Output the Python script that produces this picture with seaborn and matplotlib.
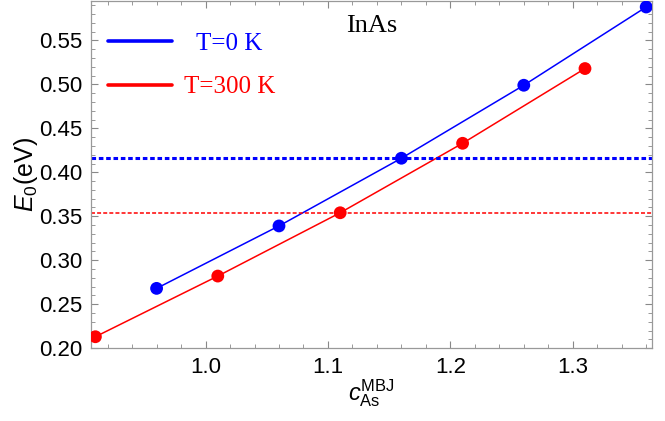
import pandas as pd
import seaborn as sns
import matplotlib.pyplot as plt
from matplotlib.ticker import MultipleLocator

# data
c_t0 = [0.96, 1.06, 1.16, 1.26, 1.36]
e_t0 = [0.268, 0.339, 0.416, 0.499, 0.588]
c_t300 = [0.91, 1.01, 1.11, 1.21, 1.31]
e_t300 = [0.213, 0.282, 0.354, 0.433, 0.518]
ref_t0 = 0.4167
ref_t300 = 0.3535
labels = ['  T=0 K', 'T=300 K']
colors = ['#0000ff', '#ff0000']

df = pd.DataFrame({
    'c': c_t0 + c_t300,
    'E': e_t0 + e_t300,
    'series': [labels[0]] * len(c_t0) + [labels[1]] * len(c_t300),
})

sns.set_style('white')
plt.rcParams['font.family'] = ['Liberation Sans', 'DejaVu Sans']
plt.rcParams['mathtext.fontset'] = 'custom'
plt.rcParams['mathtext.rm'] = 'Liberation Sans'
plt.rcParams['mathtext.it'] = 'Liberation Sans:italic'

fig = plt.figure(figsize=(6.65, 4.21), dpi=100)
ax = fig.add_axes([0.137, 0.173, 0.843, 0.825])

palette = dict(zip(labels, colors))
sns.lineplot(data=df, x='c', y='E', hue='series', palette=palette,
             linewidth=1.1, ax=ax, legend=False)
sns.scatterplot(data=df, x='c', y='E', hue='series', palette=palette,
                s=85, edgecolor='none', ax=ax, legend=False, zorder=5)

# reference levels
ax.axhline(ref_t0, color=colors[0], linewidth=2.2, dashes=(1.5, 0.9))
ax.axhline(ref_t300, color=colors[1], linewidth=1.1, dashes=(2.6, 1.4))

ax.set_xlim(0.9065, 1.3645)
ax.set_ylim(0.2, 0.595)
ax.xaxis.set_major_locator(MultipleLocator(0.1))
ax.xaxis.set_minor_locator(MultipleLocator(0.02))
ax.yaxis.set_major_locator(MultipleLocator(0.05))
ax.yaxis.set_minor_locator(MultipleLocator(0.01))
ax.xaxis.set_major_formatter(plt.FormatStrFormatter('%.1f'))
ax.yaxis.set_major_formatter(plt.FormatStrFormatter('%.2f'))

for s in ax.spines.values():
    s.set_color('#999999')
    s.set_linewidth(0.9)
ax.tick_params(which='both', direction='in', bottom=True, left=True,
               top=True, right=True, color='#888888', labelsize=16,
               labelcolor='black')
ax.tick_params(which='major', length=5, width=0.8, pad=6)
ax.tick_params(which='minor', length=3, width=0.6)

ax.set_xlabel(r'$c_{\mathrm{As}}^{\mathrm{MBJ}}$', fontsize=17, labelpad=0,
              color='black')
ax.set_ylabel(r'$E_0$(eV)', fontsize=18, labelpad=0, color='black')

ax.text(0.5, 0.928, 'InAs', transform=ax.transAxes, ha='center', va='center',
        fontsize=19, family='Liberation Serif', color='black')

handles = [plt.Line2D([], [], color=col, linewidth=2.6) for col in colors]
leg = ax.legend(handles, labels, loc='upper left', bbox_to_anchor=(-0.01, 0.975),
                frameon=False, handlelength=2.55, handletextpad=0.5,
                labelspacing=0.85, prop={'family': 'Liberation Serif', 'size': 18},
                labelcolor='linecolor')

fig.savefig('out.png', dpi=100)
